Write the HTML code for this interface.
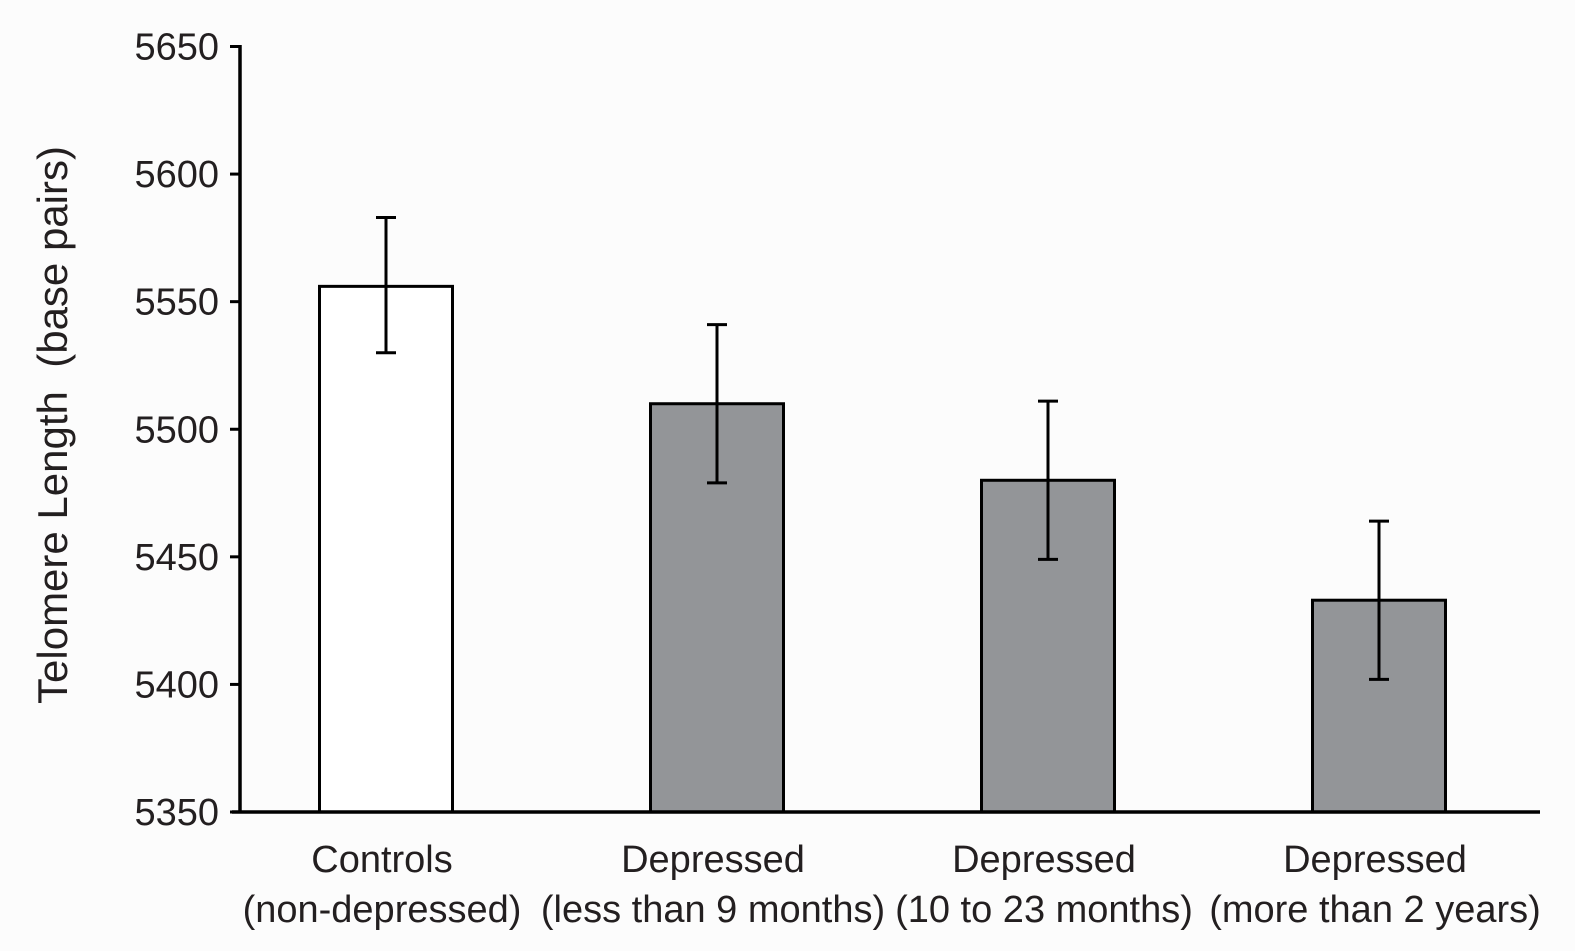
<!DOCTYPE html>
<html><head><meta charset="utf-8"><style>
html,body{margin:0;padding:0;background:#fcfcfc;}
svg{display:block;font-family:"Liberation Sans",sans-serif;}
</style></head><body>
<svg id="chart" width="1575" height="951" viewBox="0 0 1575 951">
<rect width="1575" height="951" fill="#fcfcfc"/>
<g id="plot"></g>
<text transform="translate(67,425) rotate(-90)" text-anchor="middle" font-size="42" fill="#231f20" style="white-space:pre">Telomere Length  (base pairs)</text>
</svg>
<script>
const categories = ["Controls|(non-depressed)", "Depressed|(less than 9 months)", "Depressed|(10 to 23 months)", "Depressed|(more than 2 years)"];
const values = [5556, 5510, 5480, 5433];
const errUpper = [5583, 5541, 5511, 5464];
const errLower = [5530, 5479, 5449, 5402];
const fills = ["#ffffff", "#939598", "#939598", "#939598"];
const yTicks = [5350, 5400, 5450, 5500, 5550, 5600, 5650];

const NS = "http://www.w3.org/2000/svg";
const g = document.getElementById("plot");
const yMin = 5350, yMax = 5650, yTop = 46.5, yBot = 812;
function y(v){ return yBot - (v - yMin) / (yMax - yMin) * (yBot - yTop); }
const firstCenter = 386, step = 331, barW = 133;
function x(i){ return firstCenter + i * step; }
function mk(tag, attrs){ const e = document.createElementNS(NS, tag); for (const k in attrs) e.setAttribute(k, attrs[k]); g.appendChild(e); return e; }

categories.forEach((c, i) => {
  const cx = x(i);
  const bar = mk("rect", {x: cx - barW/2, y: y(values[i]), width: barW, height: yBot - y(values[i]), fill: fills[i], stroke: "#000", "stroke-width": 3});
  
  
  const eb = mk("path", {d: `M${cx},${y(errUpper[i])}V${y(errLower[i])}M${cx-10},${y(errUpper[i])}H${cx+10}M${cx-10},${y(errLower[i])}H${cx+10}`, stroke: "#000", "stroke-width": 3, fill: "none"});
  
  
  const parts = c.split("|");
  const t = mk("text", {x: cx - 4, y: 872, "text-anchor": "middle", "font-size": 38, fill: "#231f20"});
  
  
  const t1 = document.createElementNS(NS, "tspan"); t1.setAttribute("x", cx - 4); t1.textContent = parts[0]; t.appendChild(t1);
  const t2 = document.createElementNS(NS, "tspan"); t2.setAttribute("x", cx - 4); t2.setAttribute("dy", 50); t2.textContent = parts[1]; t.appendChild(t2);
});

const yAxis = mk("path", {d: `M240,${yTop-1.5}V${yBot}`, stroke: "#000", "stroke-width": 3.5, fill: "none"});


const xAxis = mk("path", {d: `M232,${yBot}H1540`, stroke: "#000", "stroke-width": 3.5, fill: "none"});


yTicks.forEach(v => {
  const tk = mk("path", {d: `M230,${y(v)}H240`, stroke: "#000", "stroke-width": 3});
  
  
  const lb = mk("text", {x: 219, y: y(v) + 13, "text-anchor": "end", "font-size": 38, fill: "#231f20"});
  
  
  lb.textContent = v;
});
</script>
</body></html>
